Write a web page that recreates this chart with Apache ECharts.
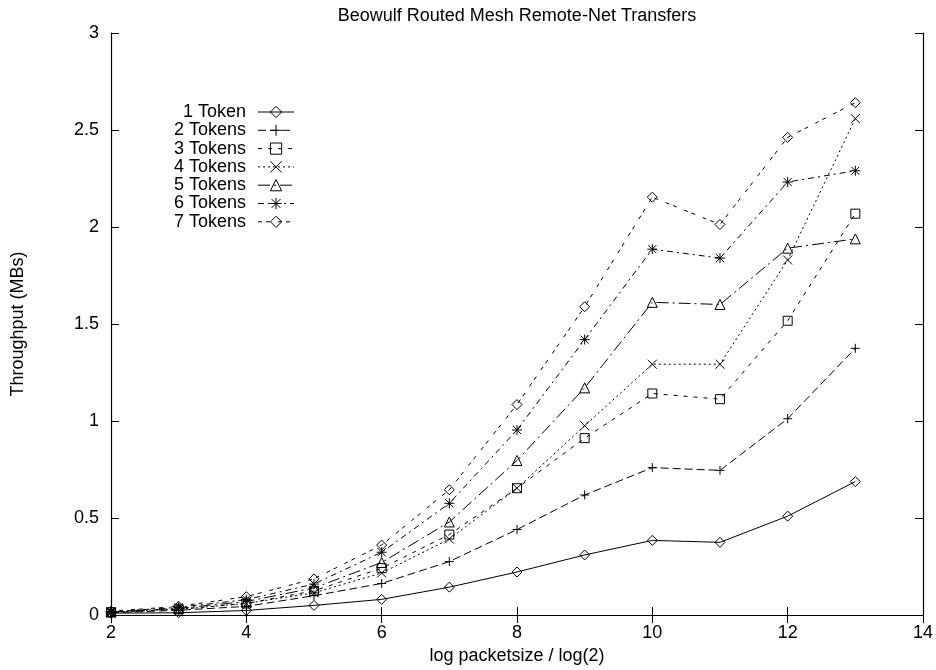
<!DOCTYPE html>
<html>
<head>
<meta charset="utf-8">
<title>Beowulf Routed Mesh Remote-Net Transfers</title>
<script src="https://cdn.jsdelivr.net/npm/echarts@6/dist/echarts.min.js"></script>
<style>
  html, body { margin: 0; padding: 0; background: #fff; }
  #chart { width: 936px; height: 670px; }
</style>
</head>
<body>
<div id="chart"></div>
<script>
// log2 of packet size
const packetLog = [2, 3, 4, 5, 6, 7, 8, 9, 10, 11, 12, 13]

// throughput (MBs) for each token count
const token1 = [0.010, 0.012, 0.024, 0.050, 0.081, 0.144, 0.222, 0.310, 0.385, 0.375, 0.510, 0.688]
const token2 = [0.012, 0.025, 0.045, 0.100, 0.163, 0.276, 0.441, 0.619, 0.760, 0.746, 1.012, 1.375]
const token3 = [0.015, 0.030, 0.060, 0.125, 0.242, 0.415, 0.654, 0.912, 1.142, 1.113, 1.517, 2.069]
const token4 = [0.015, 0.030, 0.060, 0.115, 0.217, 0.392, 0.654, 0.976, 1.293, 1.293, 1.830, 2.559]
const token5 = [0.016, 0.035, 0.070, 0.140, 0.271, 0.480, 0.797, 1.171, 1.612, 1.601, 1.891, 1.939]
const token6 = [0.018, 0.040, 0.080, 0.160, 0.324, 0.576, 0.954, 1.420, 1.886, 1.840, 2.232, 2.290]
const token7 = [0.020, 0.045, 0.095, 0.187, 0.361, 0.646, 1.085, 1.589, 2.154, 2.013, 2.462, 2.641]

const seriesNames = ['1 Token', '2 Tokens', '3 Tokens', '4 Tokens', '5 Tokens', '6 Tokens', '7 Tokens']
const seriesValues = [token1, token2, token3, token4, token5, token6, token7]

// gnuplot style markers and dash patterns
const markers = [
  'path://M5,0 L10,5 L5,10 L0,5 Z',
  'path://M5,0 L5,10 M0,5 L10,5',
  'path://M0,0 L10,0 L10,10 L0,10 Z',
  'path://M0,0 L10,10 M10,0 L0,10',
  'path://M5,0 L10,9 L0,9 Z',
  'path://M5,0 L5,10 M0,5 L10,5 M1,1 L9,9 M9,1 L1,9',
  'path://M5,0 L10,5 L5,10 L0,5 Z'
]
const markerSizes = [10, 9, 9, 9, 10, 10, 10]
const dashes = ['solid', [8, 4], [4, 6], [2, 3], [12, 4, 2, 4], [6, 4, 2, 4], [4, 4, 4, 8]]

const font = "'Liberation Sans', Arial, Helvetica, sans-serif"

const chart = echarts.init(document.getElementById('chart'))

const series = seriesNames.map((name, i) => ({
  name: name,
  type: 'line',
  xAxisIndex: 0,
  yAxisIndex: 0,
  data: packetLog.map((x, j) => [x, seriesValues[i][j]]),
  symbol: markers[i],
  symbolSize: markerSizes[i],
  showAllSymbol: true,
  lineStyle: { color: '#000', width: 1, type: dashes[i] },
  itemStyle: { color: 'transparent', borderColor: '#000', borderWidth: 1 },
  emphasis: { disabled: true },
  z: 2
}))

const tickStyle = { show: true, inside: true, length: 8, lineStyle: { color: '#000', width: 1 } }
const lineAxis = { show: true, lineStyle: { color: '#000', width: 1.2 } }

const option = {
  animation: false,
  backgroundColor: '#fff',
  textStyle: { fontFamily: font },
  title: {
    text: 'Beowulf Routed Mesh Remote-Net Transfers',
    left: 517,
    textAlign: 'center',
    top: 7,
    padding: 0,
    textStyle: { fontFamily: font, fontSize: 18, fontWeight: 'normal', color: '#000' }
  },
  legend: {
    orient: 'vertical',
    align: 'right',
    left: 174,
    top: 103,
    padding: 0,
    itemGap: 0.3,
    itemWidth: 36,
    itemHeight: 14,
    data: seriesNames,
    lineStyle: { width: 1, color: '#000' },
    itemStyle: { color: 'transparent', borderColor: '#000', borderWidth: 1 },
    textStyle: { fontFamily: font, fontSize: 18, color: '#000', lineHeight: 18, padding: [0, 7, 0, 0] }
  },
  grid: { left: 111, right: 13, top: 33, bottom: 47 },
  xAxis: [
    {
      type: 'value',
      position: 'bottom',
      min: 2,
      max: 14,
      interval: 2,
      name: 'log packetsize / log(2)',
      nameLocation: 'middle',
      nameGap: 27,
      nameTextStyle: { fontFamily: font, fontSize: 18, color: '#000' },
      axisLine: lineAxis,
      axisTick: tickStyle,
      axisLabel: { fontFamily: font, fontSize: 18, color: '#000', margin: 9 },
      splitLine: { show: false }
    },
    {
      type: 'value',
      position: 'top',
      min: 2,
      max: 14,
      interval: 2,
      axisLine: lineAxis,
      axisTick: tickStyle,
      axisLabel: { show: false },
      splitLine: { show: false }
    }
  ],
  yAxis: [
    {
      type: 'value',
      position: 'left',
      min: 0,
      max: 3,
      interval: 0.5,
      name: 'Throughput (MBs)',
      nameLocation: 'middle',
      nameGap: 84,
      nameTextStyle: { fontFamily: font, fontSize: 18, color: '#000' },
      axisLine: lineAxis,
      axisTick: tickStyle,
      axisLabel: { fontFamily: font, fontSize: 18, color: '#000', margin: 12 },
      splitLine: { show: false }
    },
    {
      type: 'value',
      position: 'right',
      min: 0,
      max: 3,
      interval: 0.5,
      axisLine: lineAxis,
      axisTick: tickStyle,
      axisLabel: { show: false },
      splitLine: { show: false }
    }
  ],
  series: series
}

chart.setOption(option)
</script>
</body>
</html>
